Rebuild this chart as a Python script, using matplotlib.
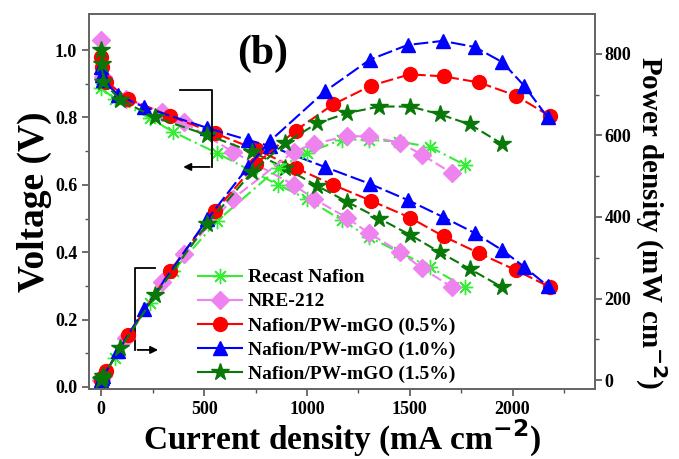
# Polarization and power density curves - PEM fuel cell
import matplotlib.pyplot as plt
from matplotlib.lines import Line2D

plt.rcParams['font.family'] = 'Liberation Serif'
plt.rcParams['font.weight'] = 'bold'

# Recast Nafion
i_recast = [0, 65, 235, 350, 563, 860, 1000, 1170, 1300, 1450, 1597, 1767]
v_recast = [0.887, 0.855, 0.798, 0.757, 0.694, 0.600, 0.558, 0.495, 0.445, 0.400, 0.356, 0.297]
p_recast = [0, 55, 188, 268, 390, 520, 557, 590, 589, 585, 572, 528]

# NRE-212
i_nre = [0, 10, 120, 295, 400, 640, 935, 1035, 1195, 1300, 1455, 1558, 1704]
v_nre = [1.03, 0.92, 0.855, 0.816, 0.786, 0.698, 0.600, 0.558, 0.502, 0.457, 0.400, 0.353, 0.297]
p_nre = [0, 9, 103, 240, 309, 445, 560, 580, 598, 598, 582, 553, 508]

# Nafion/PW-mGO (0.5%)
i_05 = [0, 5, 25, 131, 335, 553, 752, 945, 1127, 1311, 1500, 1665, 1837, 2015, 2180]
v_05 = [0.98, 0.95, 0.905, 0.855, 0.804, 0.753, 0.705, 0.650, 0.600, 0.553, 0.503, 0.447, 0.397, 0.347, 0.297]
p_05 = [0, 5, 22, 110, 268, 415, 530, 612, 676, 722, 750, 745, 730, 698, 648]

# Nafion/PW-mGO (1.0%)
i_10 = [0, 5, 10, 83, 210, 515, 714, 820, 1087, 1306, 1490, 1660, 1816, 1950, 2058, 2170]
v_10 = [0.95, 0.926, 0.91, 0.866, 0.83, 0.769, 0.733, 0.715, 0.653, 0.603, 0.555, 0.505, 0.457, 0.406, 0.356, 0.300]
p_10 = [0, 5, 9, 72, 175, 394, 523, 586, 708, 786, 822, 832, 817, 780, 721, 645]

# Nafion/PW-mGO (1.5%)
i_15 = [0, 2, 10, 92, 262, 515, 733, 893, 1050, 1197, 1352, 1503, 1646, 1793, 1947]
v_15 = [1.0, 0.96, 0.905, 0.852, 0.80, 0.748, 0.698, 0.65, 0.597, 0.549, 0.50, 0.451, 0.40, 0.35, 0.297]
p_15 = [0, 2, 9, 78, 208, 383, 510, 581, 630, 655, 671, 671, 652, 627, 580]

labels = ["Recast Nafion", "NRE-212", "Nafion/PW-mGO (0.5%)",
          "Nafion/PW-mGO (1.0%)", "Nafion/PW-mGO (1.5%)"]
cores = ["#33ee33", "#ee82ee", "red", "blue", "#087808"]
marcas = [(8, 2, 0), "D", "o", "^", "*"]
tam = [11, 9, 10, 10, 13]
estilos = [(0, (6, 2, 1, 2)), (0, (5, 2)), (0, (6, 2)), (0, (7, 2)), (0, (5, 2))]

series = [(i_recast, v_recast, p_recast), (i_nre, v_nre, p_nre),
          (i_05, v_05, p_05), (i_10, v_10, p_10), (i_15, v_15, p_15)]

fig = plt.figure(figsize=(6.79, 4.59), dpi=100)
ax = fig.add_axes([0.131, 0.1525, 0.745, 0.817])
ax2 = ax.twinx()

for k, (i, v, p) in enumerate(series):
    ax.plot(i, v, color=cores[k], marker=marcas[k], markersize=tam[k],
            linestyle=estilos[k], linewidth=1.5)
    ax2.plot(i, p, color=cores[k], marker=marcas[k], markersize=tam[k],
             linestyle=estilos[k], linewidth=1.5)

ax.set_xlim(-60, 2400)
ax.set_ylim(-0.006, 1.107)
ax2.set_ylim(-22, 898)

ax.set_xticks([0, 500, 1000, 1500, 2000])
ax.set_xticks([250, 750, 1250, 1750, 2250], minor=True)
ax.set_yticks([0.0, 0.2, 0.4, 0.6, 0.8, 1.0])
ax.set_yticks([0.1, 0.3, 0.5, 0.7, 0.9], minor=True)
ax2.set_yticks([0, 200, 400, 600, 800])
ax2.set_yticks([100, 300, 500, 700], minor=True)

for a in (ax, ax2):
    a.tick_params(which='both', direction='out', labelsize=13, color='#555555')
    a.tick_params(which='major', length=5, width=1.2)
    a.tick_params(which='minor', length=3, width=1.0)
    for s in a.spines.values():
        s.set_color('#666666')
        s.set_linewidth(1.3)
ax2.tick_params(which='major', pad=2)

ax.set_xlabel("Current density (mA cm$^{\\mathbf{-2}}$)", fontsize=24, fontweight='bold', labelpad=0)
ax.set_ylabel("Voltage (V)", fontsize=27, fontweight='bold', labelpad=2)
# rotulo do eixo direito colocado a mao
fig.text(0.958, 0.516, "Power density (mW cm$^{\\mathbf{-2}}$)", fontsize=21, fontweight='bold',
         rotation=270, ha='center', va='center')

ax.text(786, 0.99, "(b)", fontsize=30, fontweight='bold', ha='center', va='center')

# colchetes com setas indicando o eixo de cada curva
ax.plot([383, 539, 539], [0.881, 0.881, 0.653], color='black', linewidth=1.3)
ax.annotate("", xy=(385, 0.653), xytext=(541, 0.653),
            arrowprops=dict(arrowstyle='-|>', color='black', lw=1.3, mutation_scale=11))
ax.plot([262, 165, 165], [0.353, 0.353, 0.110], color='black', linewidth=1.3)
ax.annotate("", xy=(290, 0.110), xytext=(163, 0.110),
            arrowprops=dict(arrowstyle='-|>', color='black', lw=1.3, mutation_scale=11))

alcas = [Line2D([], [], color=cores[k], marker=marcas[k], markersize=tam[k],
                linewidth=1.5) for k in range(5)]
ax.legend(alcas, labels, loc='lower left', bbox_to_anchor=(0.18, -0.03), frameon=False,
          prop={'size': 14, 'weight': 'bold'}, handlelength=2.3, labelspacing=0.33,
          handletextpad=0.3)

plt.savefig("out.png", dpi=100)
